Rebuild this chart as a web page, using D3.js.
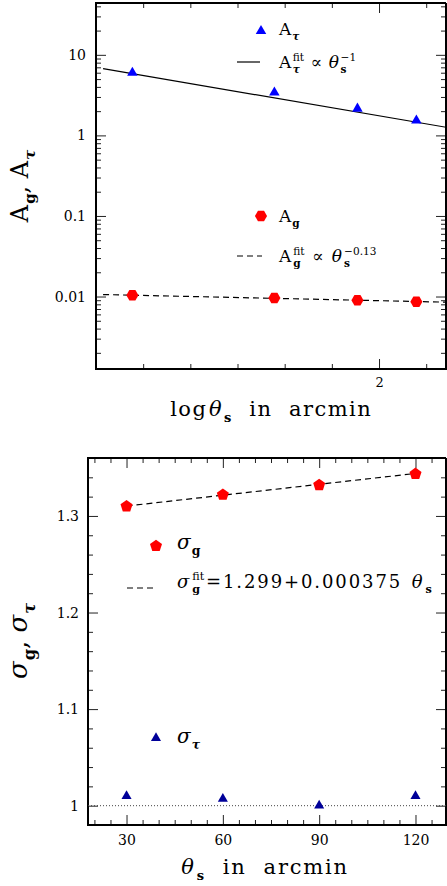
<!DOCTYPE html>
<html>
<head>
<meta charset="utf-8">
<script src="https://cdn.jsdelivr.net/npm/d3@7"></script>
<style>
  body { margin: 0; background: #fff; }
  svg { display: block; }
  text { font-family: "DejaVu Serif", serif; fill: #000; white-space: pre; }
</style>
</head>
<body>
<svg id="chart" width="447" height="886"></svg>
<script>
// data
const theta = [30, 60, 90, 120];
const aTau = [6.0, 3.4, 2.15, 1.53];
const aG = [0.0104, 0.0096, 0.0090, 0.0086];
const sigmaG = [1.310, 1.322, 1.332, 1.3435];
const sigmaTau = [1.010, 1.007, 1.000, 1.010];

// fit lines (as quoted in the legends)
const fitThetaRange = [26, 140];
const tauFit = { amp: 175, slope: -1 };
const gFit = { amp: 0.01616, slope: -0.13 };
const sigmaFit = { a: 1.299, b: 0.000375, range: [30, 120] };

// tick labels
const topXMajor = [2];
const topXMinor = [1.5, 1.6, 1.7, 1.8, 1.9, 2.1];
const topYMajor = [0.01, 0.1, 1, 10];
const botXMajor = [30, 60, 90, 120];
const botYMajor = [1, 1.1, 1.2, 1.3];

const svg = d3.select('#chart');

// custom polygon symbols (hexagon / pentagon)
function polygonSymbol(n, rot) {
  return {
    draw(ctx, size) {
      const r = Math.sqrt(size / (0.5 * n * Math.sin(2 * Math.PI / n)));
      for (let i = 0; i < n; i++) {
        const a = rot + i * 2 * Math.PI / n;
        const x = r * Math.cos(a), y = r * Math.sin(a);
        if (i === 0) ctx.moveTo(x, y); else ctx.lineTo(x, y);
      }
      ctx.closePath();
    }
  };
}
const hexagon = polygonSymbol(6, 0);
const pentagon = polygonSymbol(5, -Math.PI / 2);

// text with stacked sub/superscripts
function richText(parent, parts, size, spacing = 0) {
  const g = parent.append('g');
  let cx = 0;
  parts.forEach(p => {
    const base = g.append('text')
      .attr('x', cx).attr('y', 0)
      .attr('letter-spacing', spacing)
      .style('font-size', size + 'px')
      .style('font-style', p.italic ? 'italic' : 'normal')
      .text(p.base);
    cx += base.node().getComputedTextLength();
    let extra = 0;
    if (p.sup) {
      const s = g.append('text')
        .attr('x', cx + 1).attr('y', -size * 0.42)
        .style('font-size', (size * 0.62) + 'px')
        .text(p.sup);
      extra = Math.max(extra, s.node().getComputedTextLength() + 1);
    }
    if (p.sub) {
      const s = g.append('text')
        .attr('x', cx + 1).attr('y', size * 0.3)
        .style('font-size', (size * 0.62) + 'px')
        .style('font-weight', 'bold')
        .style('font-style', p.subItalic ? 'italic' : 'normal')
        .text(p.sub);
      extra = Math.max(extra, s.node().getComputedTextLength() + 1);
    }
    cx += extra + spacing;
  });
  return { g, width: cx };
}

function drawTicks(g, axisFn, scale, values, len, labels, pad, fontSize) {
  const axis = axisFn(scale).tickValues(values).tickSize(-len).tickPadding(pad)
    .tickFormat(labels ? labels : () => '');
  g.call(axis);
  g.select('.domain').remove();
  g.selectAll('.tick line').attr('stroke', '#222').attr('stroke-width', 1);
  g.selectAll('.tick text').style('font-size', fontSize + 'px')
    .style('font-family', '"DejaVu Serif", serif').attr('fill', '#000');
}

// ============ TOP PANEL ============
const T = { left: 96, right: 446, top: 3, bottom: 369 };
const xTop = d3.scaleLinear().domain([1.4, 2.142]).range([T.left, T.right]);
const yTop = d3.scaleLog().domain([0.00126, 44]).range([T.bottom, T.top]);
const yTopMinor = yTop.ticks().filter(v => !topYMajor.some(m => Math.abs(m - v) / m < 1e-6));

const topG = svg.append('g');
topG.append('defs').append('clipPath').attr('id', 'clipTop')
  .append('rect').attr('x', T.left).attr('y', T.top)
  .attr('width', T.right - T.left).attr('height', T.bottom - T.top);

// ticks
drawTicks(topG.append('g').attr('transform', `translate(0,${T.bottom})`), d3.axisBottom, xTop, topXMinor, 5, null, 9, 13);
drawTicks(topG.append('g').attr('transform', `translate(0,${T.bottom})`), d3.axisBottom, xTop, topXMajor, 10, d => d3.format('d')(d), 9, 13);
drawTicks(topG.append('g').attr('transform', `translate(0,${T.top})`), d3.axisTop, xTop, topXMinor, 5, null, 0, 13);
drawTicks(topG.append('g').attr('transform', `translate(0,${T.top})`), d3.axisTop, xTop, topXMajor, 10, null, 0, 13);
drawTicks(topG.append('g').attr('transform', `translate(${T.left},0)`), d3.axisLeft, yTop, yTopMinor, 5, null, 0, 14);
drawTicks(topG.append('g').attr('transform', `translate(${T.left},0)`), d3.axisLeft, yTop, topYMajor, 10, d => String(d), 10, 14);
drawTicks(topG.append('g').attr('transform', `translate(${T.right},0)`), d3.axisRight, yTop, yTopMinor, 5, null, 0, 14);
drawTicks(topG.append('g').attr('transform', `translate(${T.right},0)`), d3.axisRight, yTop, topYMajor, 10, null, 0, 14);

// frame
topG.append('path')
  .attr('d', `M${T.right},${T.top}H${T.left}V${T.bottom}H${T.right + 2}M${T.right},${T.top}V${T.bottom}`)
  .attr('fill', 'none').attr('stroke', '#000').attr('stroke-width', 2);

// fit lines
const logLine = d3.line().x(d => xTop(Math.log10(d[0]))).y(d => yTop(d[1]));
topG.append('path')
  .datum(fitThetaRange.map(t => [t, tauFit.amp * Math.pow(t, tauFit.slope)]))
  .attr('d', logLine).attr('clip-path', 'url(#clipTop)')
  .attr('fill', 'none').attr('stroke', '#000').attr('stroke-width', 1.2);
topG.append('path')
  .datum(fitThetaRange.map(t => [t, gFit.amp * Math.pow(t, gFit.slope)]))
  .attr('d', logLine).attr('clip-path', 'url(#clipTop)')
  .attr('fill', 'none').attr('stroke', '#000').attr('stroke-width', 1.2)
  .attr('stroke-dasharray', '6,4');

// markers
topG.selectAll('.atau').data(theta).join('path')
  .attr('transform', (d, i) => `translate(${xTop(Math.log10(d))},${yTop(aTau[i])})`)
  .attr('d', d3.symbol(d3.symbolTriangle, 48)).attr('fill', '#0000ff');
topG.selectAll('.ag').data(theta).join('path')
  .attr('transform', (d, i) => `translate(${xTop(Math.log10(d))},${yTop(aG[i])})`)
  .attr('d', d3.symbol(hexagon, 95)).attr('fill', '#ff0000');

// legend
topG.append('path').attr('transform', 'translate(261,31)')
  .attr('d', d3.symbol(d3.symbolTriangle, 48)).attr('fill', '#0000ff');
richText(topG, [{ base: 'A', sub: 'τ', subItalic: true }], 17).g.attr('transform', 'translate(279,35)');
topG.append('line').attr('x1', 237).attr('x2', 260).attr('y1', 62).attr('y2', 62)
  .attr('stroke', '#000').attr('stroke-width', 1.2);
richText(topG, [
  { base: 'A', sup: 'fit', sub: 'τ', subItalic: true },
  { base: ' ∝ ' },
  { base: 'θ', italic: true, sub: 's', sup: '−1' }
], 17, 0.5).g.attr('transform', 'translate(279,68)');

topG.append('path').attr('transform', 'translate(261,216)')
  .attr('d', d3.symbol(hexagon, 95)).attr('fill', '#ff0000');
richText(topG, [{ base: 'A', sub: 'g' }], 17).g.attr('transform', 'translate(279,222)');
topG.append('line').attr('x1', 237).attr('x2', 262).attr('y1', 256).attr('y2', 256)
  .attr('stroke', '#000').attr('stroke-width', 1.2).attr('stroke-dasharray', '6,4');
richText(topG, [
  { base: 'A', sup: 'fit', sub: 'g' },
  { base: ' ∝ ' },
  { base: 'θ', italic: true, sub: 's', sup: '−0.13' }
], 17, 1).g.attr('transform', 'translate(279,262)');

// axis labels
const xlabTop = richText(topG, [{ base: 'log' }, { base: 'θ', italic: true, sub: 's' }, { base: '  in  arcmin' }], 21, 1.5);
xlabTop.g.attr('transform', `translate(${272 - xlabTop.width / 2},416)`);
const ylabTop = richText(topG, [{ base: 'A', sub: 'g' }, { base: ', ' }, { base: 'A', sub: 'τ', subItalic: true }], 24);
ylabTop.g.attr('transform', `translate(28,${186 + ylabTop.width / 2}) rotate(-90)`);

// ============ BOTTOM PANEL ============
const B = { left: 88, right: 446, top: 458, bottom: 825 };
const xBot = d3.scaleLinear().domain([18, 129.5]).range([B.left, B.right]);
const yBot = d3.scaleLinear().domain([0.98, 1.36]).range([B.bottom, B.top]);
const botXMinor = d3.range(20, 130, 5).filter(v => !botXMajor.includes(v));
const botYMinor = d3.range(0, 19).map(i => +(0.98 + i * 0.02).toFixed(2))
  .filter(v => !botYMajor.some(m => Math.abs(m - v) < 1e-6));

const botG = svg.append('g');

drawTicks(botG.append('g').attr('transform', `translate(0,${B.bottom})`), d3.axisBottom, xBot, botXMinor, 5, null, 0, 14);
drawTicks(botG.append('g').attr('transform', `translate(0,${B.bottom})`), d3.axisBottom, xBot, botXMajor, 10, d => String(d), 10, 14);
drawTicks(botG.append('g').attr('transform', `translate(0,${B.top})`), d3.axisTop, xBot, botXMinor, 5, null, 0, 14);
drawTicks(botG.append('g').attr('transform', `translate(0,${B.top})`), d3.axisTop, xBot, botXMajor, 10, null, 0, 14);
drawTicks(botG.append('g').attr('transform', `translate(${B.left},0)`), d3.axisLeft, yBot, botYMinor, 5, null, 0, 14);
drawTicks(botG.append('g').attr('transform', `translate(${B.left},0)`), d3.axisLeft, yBot, botYMajor, 10, d => (d === 1 ? '1' : d3.format('.1f')(d)), 9, 14);
drawTicks(botG.append('g').attr('transform', `translate(${B.right},0)`), d3.axisRight, yBot, botYMinor, 5, null, 0, 14);
drawTicks(botG.append('g').attr('transform', `translate(${B.right},0)`), d3.axisRight, yBot, botYMajor, 10, null, 0, 14);

botG.append('path')
  .attr('d', `M${B.right},${B.top}H${B.left}V${B.bottom}H${B.right + 2}M${B.right},${B.top}V${B.bottom}`)
  .attr('fill', 'none').attr('stroke', '#000').attr('stroke-width', 2);

// dotted reference at 1
botG.append('line')
  .attr('x1', B.left).attr('x2', B.right).attr('y1', yBot(1)).attr('y2', yBot(1))
  .attr('stroke', '#444').attr('stroke-width', 1).attr('stroke-dasharray', '1,2');

// fit
const linLine = d3.line().x(d => xBot(d[0])).y(d => yBot(d[1]));
botG.append('path')
  .datum(sigmaFit.range.map(t => [t, sigmaFit.a + sigmaFit.b * t]))
  .attr('d', linLine).attr('fill', 'none').attr('stroke', '#000')
  .attr('stroke-width', 1.2).attr('stroke-dasharray', '6,4');

botG.selectAll('.sg').data(theta).join('path')
  .attr('transform', (d, i) => `translate(${xBot(d)},${yBot(sigmaG[i])})`)
  .attr('d', d3.symbol(pentagon, 95)).attr('fill', '#ff0000');
botG.selectAll('.st').data(theta).join('path')
  .attr('transform', (d, i) => `translate(${xBot(d)},${yBot(sigmaTau[i])})`)
  .attr('d', d3.symbol(d3.symbolTriangle, 44)).attr('fill', '#000099');

// legend
botG.append('path').attr('transform', 'translate(156,546)')
  .attr('d', d3.symbol(pentagon, 95)).attr('fill', '#ff0000');
richText(botG, [{ base: 'σ', italic: true, sub: 'g' }], 20).g.attr('transform', 'translate(177,549)');
botG.append('line').attr('x1', 127).attr('x2', 156).attr('y1', 588).attr('y2', 588)
  .attr('stroke', '#000').attr('stroke-width', 1.2).attr('stroke-dasharray', '6,4');
richText(botG, [
  { base: 'σ', italic: true, sup: 'fit', sub: 'g' },
  { base: '=1.299+0.000375 ' },
  { base: 'θ', italic: true, sub: 's' }
], 18, 1.9).g.attr('transform', 'translate(177,588)');
botG.append('path').attr('transform', 'translate(156,738)')
  .attr('d', d3.symbol(d3.symbolTriangle, 44)).attr('fill', '#000099');
richText(botG, [{ base: 'σ', italic: true, sub: 'τ', subItalic: true }], 20).g.attr('transform', 'translate(177,743)');

const xlabBot = richText(botG, [{ base: 'θ', italic: true, sub: 's' }, { base: '  in  arcmin' }], 21, 1.8);
xlabBot.g.attr('transform', `translate(${266 - xlabBot.width / 2},874)`);
const ylabBot = richText(botG, [{ base: 'σ', italic: true, sub: 'g' }, { base: ', ' }, { base: 'σ', italic: true, sub: 'τ', subItalic: true }], 26);
ylabBot.g.attr('transform', `translate(27,${641 + ylabBot.width / 2}) rotate(-90)`);
</script>
</body>
</html>
